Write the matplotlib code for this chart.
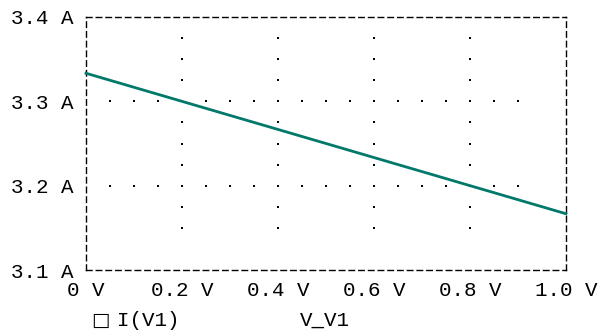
import matplotlib
matplotlib.use("Agg")
import matplotlib.pyplot as plt
import numpy as np

# Data
v_sweep = [0.0, 1.0]
i_v1 = [3.3333, 3.1667]
x_ticks = [0.0, 0.2, 0.4, 0.6, 0.8, 1.0]
x_tick_labels = ["0 V", "0.2 V", "0.4 V", "0.6 V", "0.8 V", "1.0 V"]
y_ticks = [3.1, 3.2, 3.3, 3.4]
y_tick_labels = ["3.1 A", "3.2 A", "3.3 A", "3.4 A"]
grid_x = [0.2, 0.4, 0.6, 0.8]
grid_y = [3.2, 3.3]
grid_dot_y = [3.15, 3.175, 3.2, 3.225, 3.25, 3.275, 3.3, 3.325, 3.35, 3.375]
grid_dot_x = [0.05 * k for k in range(1, 19)]

font = "Liberation Mono"
fs = 15

fig = plt.figure(figsize=(6, 3.3), dpi=100)
ax = fig.add_axes([86/600, 1-270/330, 480/600, 253/330])
ax.set_xlim(0, 1.0)
ax.set_ylim(3.1, 3.4)

# dotted grid
for gx in grid_x:
    ax.plot([gx]*len(grid_dot_y), grid_dot_y, linestyle='none', marker='s',
            markersize=1.8, color='black', markeredgewidth=0)
for gy in grid_y:
    ax.plot(grid_dot_x, [gy]*len(grid_dot_x), linestyle='none', marker='s',
            markersize=1.8, color='black', markeredgewidth=0)

ax.plot(v_sweep, i_v1, color='#00796B', linewidth=2.0, clip_on=False, zorder=5)

for s in ax.spines.values():
    s.set_linestyle((0, (4, 3)))
    s.set_linewidth(1.0)
    s.set_color('black')

ax.set_xticks(x_ticks)
ax.set_xticklabels(x_tick_labels, fontfamily=font, fontsize=fs)
ax.set_yticks(y_ticks)
ax.set_yticklabels(y_tick_labels, fontfamily=font, fontsize=fs)
ax.tick_params(length=0)
ax.tick_params(axis='y', pad=9)
ax.tick_params(axis='x', pad=8)

fig.text(91/600, 1-320/330, "\u25a1", fontfamily="DejaVu Sans", fontsize=14, va='center', ha='left')
fig.text(117/600, 1-320/330, "I(V1)", fontfamily=font, fontsize=fs, va='center', ha='left')
fig.text(300/600, 1-320/330, "V_V1", fontfamily=font, fontsize=fs, va='center', ha='left')

fig.savefig("out.png", dpi=100)
